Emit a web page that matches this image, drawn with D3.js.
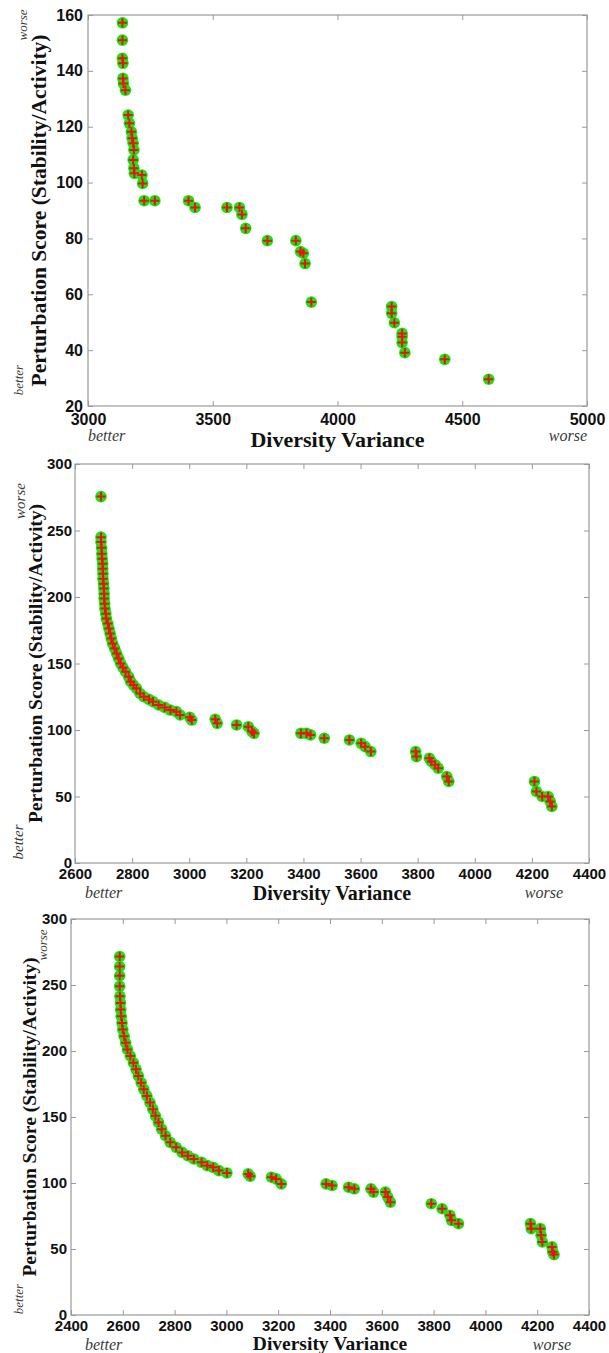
<!DOCTYPE html>
<html>
<head>
<meta charset="utf-8">
<script src="https://cdn.jsdelivr.net/npm/d3@7"></script>
<style>
  body { margin: 0; background: #fff; }
  svg { display: block; }
</style>
</head>
<body>
<div id="wrapper"></div>
<script>
// panel 1 (top)
const p1Diversity = [3138, 3138, 3138, 3140, 3140, 3142, 3150, 3161, 3166, 3174, 3177, 3181, 3184, 3181, 3184, 3186,
  3216, 3219, 3225, 3268, 3403, 3429, 3557, 3607, 3617, 3632, 3719, 3833, 3852, 3863, 3870, 3895,
  4217, 4217, 4228, 4259, 4259, 4259, 4270, 4430, 4606];
const p1Score = [157.2, 151.0, 144.5, 142.7, 137.3, 135.5, 133.1, 124.2, 121.2, 118.2, 115.9, 114.1, 111.7, 108.1, 105.1, 103.3,
  102.7, 99.7, 93.5, 93.5, 93.5, 91.1, 91.1, 91.1, 88.6, 83.6, 79.2, 79.2, 75.3, 74.7, 71.0, 57.2,
  55.6, 53.2, 49.8, 46.0, 44.8, 42.7, 39.1, 36.7, 29.6];
const p1XTicks = [3000, 3500, 4000, 4500, 5000];
const p1YTicks = [20, 40, 60, 80, 100, 120, 140, 160];

// panel 2 (middle)
const p2Diversity = [2691, 2691, 2691, 2693, 2694, 2695, 2697, 2697, 2698, 2698, 2700, 2701, 2702, 2702, 2704, 2705,
  2708, 2710, 2715, 2719, 2723, 2727, 2732, 2739, 2746, 2753, 2760, 2768, 2777, 2788, 2795, 2805,
  2815, 2828, 2841, 2859, 2873, 2893, 2914, 2934, 2955, 2968, 3002, 3009,
  3091, 3098, 3166, 3207, 3220, 3227, 3391, 3411, 3425, 3473, 3561, 3602, 3616, 3636,
  3793, 3796, 3841, 3848, 3861, 3872, 3902, 3909, 4209, 4216, 4236, 4257, 4264, 4270];
const p2Score = [275.5, 245, 241.3, 237, 232.5, 228.8, 225, 221.3, 217.5, 213.8, 210, 206.3, 202.5, 198.8, 195, 191.3,
  187.5, 183.8, 180, 176.3, 172.5, 168.8, 165, 161.3, 157.5, 153.8, 150, 147, 143.8, 140, 136.3, 133.8,
  131.3, 127.5, 125, 123, 121.3, 118.8, 117, 115, 113.8, 111.3, 109.5, 107.5,
  108, 105, 103.8, 102.5, 98.8, 97.5, 97.5, 97.5, 96.3, 93.8, 92.5, 90, 87.5, 83.8,
  83.8, 80, 78.8, 76.3, 73.8, 71.3, 65, 61.3, 61.3, 53.8, 50, 50, 46.3, 42.5];
const p2XTicks = [2600, 2800, 3000, 3200, 3400, 3600, 3800, 4000, 4200, 4400];
const p2YTicks = [0, 50, 100, 150, 200, 250, 300];

// panel 3 (bottom)
const p3Diversity = [2588, 2588, 2588, 2588, 2589, 2591, 2592, 2594, 2597, 2600, 2605, 2611, 2618, 2629, 2641, 2651,
  2660, 2671, 2681, 2693, 2705, 2716, 2726, 2738, 2750, 2765, 2783, 2806, 2829, 2851, 2874, 2904,
  2926, 2949, 2971, 3002, 3084, 3092, 3174, 3192, 3212, 3385, 3408, 3472, 3494, 3558, 3568, 3614,
  3623, 3633, 3791, 3833, 3863, 3869, 3896, 4174, 4177, 4212, 4215, 4220, 4257, 4260, 4265];
const p3Score = [271.6, 264, 257, 249, 241.4, 236.4, 231.4, 226.3, 221.3, 216.3, 211.2, 206.2, 201.2, 196.2, 191.1, 186.1,
  181.1, 176, 171, 166, 161, 155.9, 150.9, 145.9, 140.8, 135.8, 130.8, 127, 123.2, 120.7, 118.2, 115.7,
  113.2, 111.9, 109.4, 107.6, 106.9, 105.1, 104.4, 103.1, 99.3, 99.3, 98.1, 96.8, 95.6, 95.6, 93.1, 93.1,
  89.3, 85.5, 84.3, 80.5, 75.5, 71.7, 69.2, 69.2, 65.4, 65.4, 60.4, 55.3, 51.6, 47.8, 45.8];
const p3XTicks = [2400, 2600, 2800, 3000, 3200, 3400, 3600, 3800, 4000, 4200, 4400];
const p3YTicks = [0, 50, 100, 150, 200, 250, 300];

const xTitle = "Diversity Variance";
const yTitle = "Perturbation Score (Stability/Activity)";

const svg = d3.select("#wrapper").append("svg")
  .attr("width", 609)
  .attr("height", 1353);

svg.append("rect").attr("width", 609).attr("height", 1353).attr("fill", "#fff");

function drawPanel(p) {
  const xs = d3.scaleLinear().domain(d3.extent(p.xTicks)).range([p.left, p.right]);
  const ys = d3.scaleLinear().domain(d3.extent(p.yTicks)).range([p.bottom, p.top]);
  const g = svg.append("g");

  // box
  g.append("rect")
    .attr("x", p.left).attr("y", p.top)
    .attr("width", p.right - p.left).attr("height", p.bottom - p.top)
    .attr("fill", "none").attr("stroke", "#9a9a9a").attr("stroke-width", 1.2);

  const axes = [
    [d3.axisBottom(xs), p.bottom, 0, true],
    [d3.axisTop(xs), p.top, 0, false],
    [d3.axisLeft(ys), 0, p.left, true],
    [d3.axisRight(ys), 0, p.right, false]
  ];
  axes.forEach(([ax, ty, tx, labels], i) => {
    ax.tickValues(i < 2 ? p.xTicks : p.yTicks)
      .tickSizeInner(-5).tickSizeOuter(0)
      .tickPadding(i < 2 ? p.xPad : p.yPad)
      .tickFormat(labels ? d3.format("d") : "");
    const a = g.append("g")
      .attr("transform", `translate(${tx},${ty})`)
      .call(ax);
    a.select(".domain").remove();
    a.selectAll(".tick line").attr("stroke", "#9a9a9a");
    a.selectAll("text")
      .attr("fill", "#111")
      .style("font-family", "'Liberation Sans', Arial, sans-serif")
      .style("font-weight", "bold")
      .style("font-size", p.tickFont + "px");
  });

  const pts = p.xs.map((d, i) => [d, p.ys[i]]);
  g.append("g").selectAll("circle")
    .data(pts).join("circle")
    .attr("cx", d => xs(d[0]))
    .attr("cy", d => ys(d[1]))
    .attr("r", 5.8)
    .attr("fill", "#14e614");
  g.append("g").selectAll("path")
    .data(pts).join("path")
    .attr("transform", d => `translate(${xs(d[0])},${ys(d[1])})`)
    .attr("d", "M-4.6,0H4.6M0,-4.6V4.6")
    .attr("stroke", "#f01010")
    .attr("stroke-width", 2);

  const serif = "'Liberation Serif', 'Times New Roman', serif";
  g.append("text")
    .attr("x", (p.left + p.right) / 2).attr("y", p.xTitleY)
    .attr("text-anchor", "middle")
    .attr("fill", "#111")
    .style("font-family", serif).style("font-weight", "bold")
    .style("font-size", p.titleFont + "px")
    .text(xTitle);
  g.append("text")
    .attr("transform", `translate(${p.yTitleX},${(p.top + p.bottom) / 2}) rotate(-90)`)
    .attr("text-anchor", "middle")
    .attr("fill", "#111")
    .style("font-family", serif).style("font-weight", "bold")
    .style("font-size", p.yTitleFont + "px")
    .text(yTitle);

  const note = (x, y, txt, anchor, rot, size) => {
    g.append("text")
      .attr("transform", `translate(${x},${y})` + (rot ? " rotate(-90)" : ""))
      .attr("text-anchor", anchor)
      .attr("fill", "#3a3a3a")
      .style("font-family", serif).style("font-style", "italic")
      .style("font-size", size + "px")
      .text(txt);
  };
  note(p.betterX, p.noteY, "better", "start", false, p.noteFont);
  note(p.worseX, p.noteY, "worse", "end", false, p.noteFont);
  note(p.vWorse[0], p.vWorse[1], "worse", "middle", true, p.vNoteFont);
  note(p.vBetter[0], p.vBetter[1], "better", "middle", true, p.vNoteFont);
}

drawPanel({
  xs: p1Diversity, ys: p1Score, xTicks: p1XTicks, yTicks: p1YTicks,
  left: 88, right: 587, top: 15, bottom: 406,
  xPad: 8, yPad: 5, tickFont: 16, titleFont: 22, yTitleFont: 21.5,
  xTitleY: 447, yTitleX: 46, betterX: 88, worseX: 587, noteY: 441, noteFont: 16,
  vWorse: [27, 25], vBetter: [23, 380], vNoteFont: 13
});

drawPanel({
  xs: p2Diversity, ys: p2Score, xTicks: p2XTicks, yTicks: p2YTicks,
  left: 75, right: 589, top: 464, bottom: 863,
  xPad: 5, yPad: 3, tickFont: 15, titleFont: 20, yTitleFont: 19.5,
  xTitleY: 900, yTitleX: 42, betterX: 85, worseX: 563, noteY: 898, noteFont: 16,
  vWorse: [25, 501], vBetter: [23, 842], vNoteFont: 15
});

drawPanel({
  xs: p3Diversity, ys: p3Score, xTicks: p3XTicks, yTicks: p3YTicks,
  left: 71, right: 589, top: 919, bottom: 1315,
  xPad: 5, yPad: 4, tickFont: 15, titleFont: 19.5, yTitleFont: 19.5,
  xTitleY: 1350, yTitleX: 36, betterX: 85, worseX: 571, noteY: 1350, noteFont: 16,
  vWorse: [47, 945], vBetter: [23, 1299], vNoteFont: 13
});
</script>
</body>
</html>
